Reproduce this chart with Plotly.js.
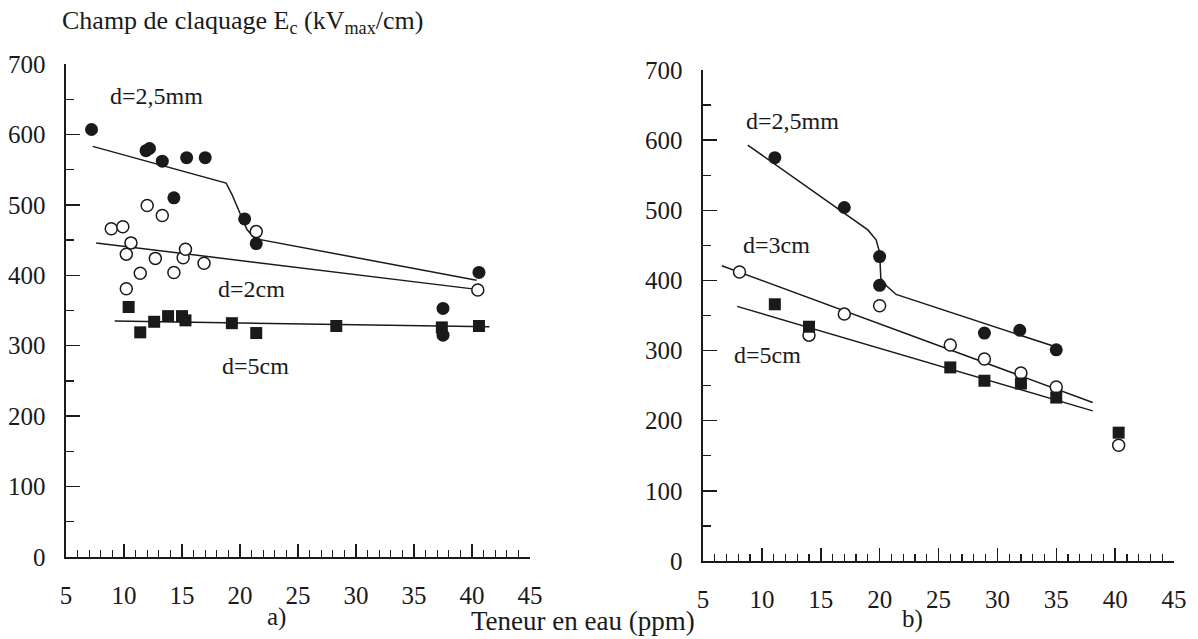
<!DOCTYPE html>
<html>
<head>
<meta charset="utf-8">
<script src="https://cdn.plot.ly/plotly-3.0.1.min.js"></script>
<style>html,body{margin:0;padding:0;background:#fff}#chart{width:1198px;height:639px}</style>
</head>
<body>
<div id="chart"></div>
<script>
// ---------- Panel a) ----------
var aFilledX = [7.2, 11.9, 12.2, 13.3, 14.3, 15.4, 17.0, 20.4, 21.4, 37.5, 37.5, 40.6];
var aFilledY = [607, 577, 580, 562, 510, 567, 567, 480, 445, 353, 315, 404];
var aOpenX = [8.9, 9.9, 10.2, 10.2, 10.6, 11.4, 12.0, 12.7, 13.3, 14.3, 15.1, 15.3, 16.9, 21.4, 40.5];
var aOpenY = [466, 469, 430, 381, 446, 403, 499, 424, 485, 404, 425, 437, 417, 462, 379];
var aSquareX = [10.4, 11.4, 12.6, 13.8, 15.0, 15.3, 19.3, 21.4, 28.3, 37.4, 40.6];
var aSquareY = [355, 319, 334, 342, 342, 336, 332, 318, 328, 326, 328];
var aFit25X = [7.3, 18.8, 19.3, 20.6, 21.3, 40.4];
var aFit25Y = [583, 531, 515, 465, 452, 393];
var aFit2X = [7.6, 40.4];
var aFit2Y = [446, 380];
var aFit5X = [9.2, 41.5];
var aFit5Y = [335, 327];

// ---------- Panel b) ----------
var bFilledX = [11.1, 17.0, 20.0, 20.0, 28.9, 31.9, 35.0];
var bFilledY = [575, 504, 434, 393, 325, 329, 301];
var bOpenX = [8.1, 14.0, 17.0, 20.0, 26.0, 28.9, 32.0, 35.0, 40.3];
var bOpenY = [412, 322, 352, 364, 308, 288, 268, 248, 165];
var bSquareX = [11.1, 14.0, 26.0, 28.9, 32.0, 35.0, 40.3];
var bSquareY = [366, 334, 276, 257, 253, 233, 183];
var bFit25X = [8.8, 19.0, 19.7, 20.0, 20.1, 20.6, 21.4, 35.0];
var bFit25Y = [593, 472, 458, 440, 403, 392, 380, 305];
var bFit3X = [6.6, 38.1];
var bFit3Y = [421, 226];
var bFit5X = [7.9, 38.1];
var bFit5Y = [363, 214];

var xTicks = [5, 10, 15, 20, 25, 30, 35, 40, 45];
var yTicks = [0, 100, 200, 300, 400, 500, 600, 700];

var INK = '#1a1a1a';
var FONT = 'Liberation Serif';

function line(x, y, xa, ya) {
  return {x: x, y: y, xaxis: xa, yaxis: ya, mode: 'lines', type: 'scatter',
          line: {color: INK, width: 1.5}, hoverinfo: 'skip', showlegend: false};
}
function pts(x, y, xa, ya, kind) {
  var m;
  if (kind === 'filled') m = {symbol: 'circle', size: 13, color: INK, line: {color: INK, width: 0}};
  else if (kind === 'open') m = {symbol: 'circle', size: 12, color: '#fff', line: {color: INK, width: 1.5}};
  else m = {symbol: 'square', size: 12, color: INK, line: {color: INK, width: 0}};
  return {x: x, y: y, xaxis: xa, yaxis: ya, mode: 'markers', type: 'scatter',
          marker: m, showlegend: false, cliponaxis: false};
}

var data = [
  line(aFit25X, aFit25Y, 'x', 'y'), line(aFit2X, aFit2Y, 'x', 'y'), line(aFit5X, aFit5Y, 'x', 'y'),
  pts(aOpenX, aOpenY, 'x', 'y', 'open'), pts(aSquareX, aSquareY, 'x', 'y', 'square'), pts(aFilledX, aFilledY, 'x', 'y', 'filled'),
  line(bFit25X, bFit25Y, 'x2', 'y2'), line(bFit3X, bFit3Y, 'x2', 'y2'), line(bFit5X, bFit5Y, 'x2', 'y2'),
  pts(bOpenX, bOpenY, 'x2', 'y2', 'open'), pts(bSquareX, bSquareY, 'x2', 'y2', 'square'), pts(bFilledX, bFilledY, 'x2', 'y2', 'filled')
];

function xAxis(domain, anchor) {
  return {domain: domain, anchor: anchor, range: [5, 45], tickvals: xTicks, ticktext: xTicks.map(String),
          showline: true, linecolor: INK, linewidth: 1.6, ticks: 'inside', ticklen: 13, tickwidth: 1.5, tickcolor: INK,
          minor: {dtick: 1, tick0: 5, ticks: 'inside', ticklen: 7, tickwidth: 1.2, tickcolor: INK, showgrid: false},
          showgrid: false, zeroline: false, ticklabelstandoff: 15,
          tickfont: {family: FONT, size: 25, color: INK}};
}
function yAxis(domain, anchor, standoff) {
  return {domain: domain, anchor: anchor, range: [0, 700], tickvals: yTicks, ticktext: yTicks.map(String),
          showline: true, linecolor: INK, linewidth: 1.6, ticks: 'inside', ticklen: 14, tickwidth: 1.5, tickcolor: INK,
          minor: {dtick: 50, tick0: 0, ticks: 'inside', ticklen: 8, tickwidth: 1.2, tickcolor: INK, showgrid: false},
          showgrid: false, zeroline: false, ticklabelstandoff: standoff,
          tickfont: {family: FONT, size: 25, color: INK}};
}

function ann(text, x, y, xref, yref, size) {
  return {text: text, x: x, y: y, xref: xref, yref: yref, showarrow: false,
          font: {family: FONT, size: size || 24, color: INK}, xanchor: 'center', yanchor: 'middle'};
}

var layout = {
  width: 1198, height: 639,
  margin: {l: 0, r: 0, t: 0, b: 0},
  paper_bgcolor: '#fff', plot_bgcolor: 'rgba(0,0,0,0)',
  font: {family: FONT, color: INK},
  showlegend: false,
  xaxis: xAxis([66 / 1198, 530 / 1198], 'y'),
  yaxis: yAxis([82 / 639, 575 / 639], 'x', 14),
  xaxis2: xAxis([703 / 1198, 1174 / 1198], 'y2'),
  yaxis2: yAxis([78 / 639, 569 / 639], 'x2', 14),
  annotations: [
    ann('Champ de claquage E<sub>c</sub> (kV<sub>max</sub>/cm)', 242 / 1198, 1 - 22 / 639, 'paper', 'paper', 26),
    ann('d=2,5mm', 12.8, 654, 'x', 'y'),
    ann('d=2cm', 21.0, 380, 'x', 'y'),
    ann('d=5cm', 21.3, 271, 'x', 'y'),
    ann('d=2,5mm', 12.6, 627, 'x2', 'y2'),
    ann('d=3cm', 11.2, 450, 'x2', 'y2'),
    ann('d=5cm', 10.5, 294, 'x2', 'y2'),
    ann('a)', 276 / 1198, 1 - 617 / 639, 'paper', 'paper', 25),
    ann('b)', 912 / 1198, 1 - 619 / 639, 'paper', 'paper', 25),
    ann('Teneur en eau (ppm)', 583 / 1198, 1 - 621 / 639, 'paper', 'paper', 27)
  ]
};

Plotly.newPlot('chart', data, layout, {displayModeBar: false, staticPlot: true});
</script>
</body>
</html>
